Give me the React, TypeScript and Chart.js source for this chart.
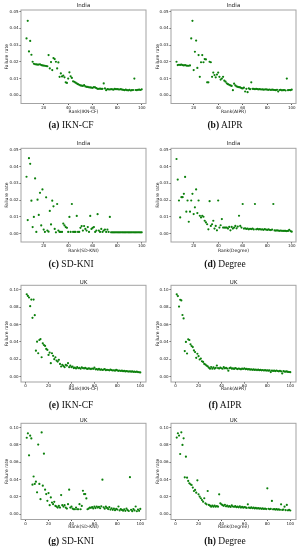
import React, { useEffect, useRef } from "react";
import { Chart, registerables } from "chart.js";

Chart.register(...registerables);

// ---------- data ----------
const INDIA_FIRST_RANK = 6;
const UK_FIRST_RANK = 1;

const indiaIknCf = [
  0.034, 0.0445, 0.0262, 0.0325, 0.0242, 0.02, 0.0188, 0.0185, 0.0184, 0.0183,
  0.0183, 0.0185, 0.018, 0.0178, 0.0177, 0.0176, 0.0174, 0.0173, 0.024, 0.016,
  0.0198, 0.015, 0.0222, 0.0216, 0.02, 0.016, 0.0196, 0.011, 0.013, 0.0112,
  0.0117, 0.0107, 0.0077, 0.0073, 0.0099, 0.0137, 0.0113, 0.0103, 0.0083, 0.008,
  0.0075, 0.007, 0.0066, 0.0062, 0.0058, 0.0057, 0.0055, 0.006, 0.0052, 0.005,
  0.0049, 0.0047, 0.0046, 0.0045, 0.0044, 0.0048, 0.0046, 0.0042, 0.0038, 0.0038,
  0.0039, 0.0037, 0.0038, 0.007, 0.004, 0.003, 0.0036, 0.0035, 0.0034, 0.0036,
  0.0035, 0.0033, 0.0037, 0.0036, 0.0036, 0.0035, 0.0034, 0.0036, 0.0033, 0.0032,
  0.003, 0.0033, 0.003, 0.0029, 0.0032, 0.0028, 0.003, 0.0031, 0.0099, 0.0031,
  0.003, 0.0032, 0.0033, 0.0031, 0.0035,
];

const indiaAipr = [
  0.02, 0.018, 0.0182, 0.0181, 0.0183, 0.018, 0.0178, 0.018, 0.0177, 0.0176,
  0.0176, 0.0178, 0.034, 0.0445, 0.015, 0.026, 0.0327, 0.0163, 0.024, 0.011,
  0.0197, 0.024, 0.0197, 0.0216, 0.0214, 0.0077, 0.0077, 0.02, 0.0197, 0.011,
  0.0135, 0.012, 0.0107, 0.0123, 0.0135, 0.011, 0.0093, 0.0099, 0.011, 0.0087,
  0.0081, 0.0071, 0.0066, 0.0062, 0.0058, 0.0055, 0.003, 0.0069, 0.0058, 0.0052,
  0.005, 0.0048, 0.0046, 0.0042, 0.004, 0.0045, 0.0022, 0.0038, 0.0018, 0.004,
  0.0036, 0.0077, 0.0038, 0.0037, 0.0036, 0.0037, 0.0036, 0.0035, 0.0036, 0.0034,
  0.0035, 0.0033, 0.0034, 0.0035, 0.0033, 0.0032, 0.0034, 0.0031, 0.0033, 0.0032,
  0.0031, 0.003, 0.0032, 0.0022, 0.0031, 0.0032, 0.0029, 0.003, 0.0031, 0.0028,
  0.0099, 0.003, 0.0031, 0.003, 0.0033,
];

const indiaSdKni = [
  0.034, 0.0081, 0.0451, 0.0417, 0.0197, 0.0039, 0.01, 0.033, 0.001, 0.0203,
  0.0112, 0.0244, 0.0049, 0.0264, 0.0024, 0.001, 0.0217, 0.0018, 0.0012, 0.0136,
  0.0055, 0.0197, 0.0163, 0.0028, 0.0008, 0.0177, 0.0018, 0.001, 0.001, 0.001,
  0.006, 0.0049, 0.0039, 0.0035, 0.001, 0.01, 0.001, 0.0177, 0.001, 0.001,
  0.001, 0.0106, 0.001, 0.001, 0.0035, 0.0045, 0.0018, 0.0045, 0.0028, 0.0018,
  0.0039, 0.001, 0.0106, 0.0028, 0.0035, 0.0039, 0.001, 0.0018, 0.0116, 0.0018,
  0.001, 0.0028, 0.001, 0.0018, 0.0024, 0.001, 0.0024, 0.001, 0.01,
  0.0008, 0.0008, 0.0008, 0.0008, 0.0008, 0.0008, 0.0008, 0.0008, 0.0008, 0.0008,
  0.0008, 0.0008, 0.0008, 0.0008, 0.0008, 0.0008, 0.0008, 0.0008, 0.0008, 0.0008,
  0.0008, 0.0008, 0.0008, 0.0008, 0.0008, 0.0008,
];

const indiaDegree = [
  0.0446, 0.0323, 0.0198, 0.0097, 0.0218, 0.0218, 0.0238, 0.0339, 0.0131, 0.0198,
  0.0071, 0.0131, 0.0198, 0.0238, 0.0117, 0.0157, 0.0264, 0.0123, 0.0198, 0.0107,
  0.0097, 0.0107, 0.0101, 0.0077, 0.0067, 0.0056, 0.0026, 0.0194, 0.0046, 0.0056,
  0.0077, 0.003, 0.0046, 0.002, 0.0198, 0.0036, 0.005, 0.0087, 0.0036, 0.0036,
  0.0036, 0.0036, 0.003, 0.004, 0.002, 0.004, 0.003, 0.0036, 0.0046, 0.0032,
  0.0042, 0.0107, 0.0046, 0.0036, 0.0177, 0.003,
  0.0032, 0.0028, 0.003, 0.0026, 0.0029, 0.0027, 0.003, 0.0025, 0.0177, 0.0026,
  0.0028, 0.0025, 0.0027, 0.0024, 0.0026, 0.0023, 0.0027, 0.0024, 0.0022, 0.0025,
  0.0023, 0.0021, 0.0024, 0.0177, 0.0019, 0.0018, 0.0019, 0.0018, 0.0017, 0.0018,
  0.0017, 0.0016, 0.0017, 0.0016, 0.0015, 0.0016, 0.0023, 0.0015, 0.0012,
];

const ukIknCf = [
  0.0947, 0.0928, 0.091, 0.081, 0.0886, 0.0677, 0.0886, 0.0707, 0.03, 0.0403,
  0.027, 0.0422, 0.0433, 0.0224, 0.0384, 0.0365, 0.0354, 0.032, 0.0308, 0.0251,
  0.0278, 0.0156, 0.027, 0.024, 0.0202, 0.0224, 0.0186, 0.0175, 0.0194, 0.0148,
  0.0118, 0.0137, 0.0125, 0.011, 0.0137, 0.0129, 0.0156, 0.011, 0.0129, 0.011,
  0.0118, 0.01, 0.0105, 0.0095, 0.011, 0.0098, 0.0103, 0.0092, 0.0108, 0.01,
  0.0096, 0.0102, 0.0094, 0.009, 0.0097, 0.0093, 0.0088, 0.0095, 0.0091, 0.0105,
  0.0085, 0.0088, 0.0082, 0.009, 0.008, 0.0086, 0.0078, 0.0083, 0.0088, 0.0076,
  0.008, 0.0078, 0.0074, 0.0082, 0.0077, 0.0072, 0.0075, 0.007, 0.0079, 0.0073,
  0.0068, 0.0072, 0.0066, 0.007, 0.0064, 0.0068, 0.0061, 0.0065, 0.0063, 0.006,
  0.0062, 0.0058, 0.0061, 0.0057, 0.0059, 0.0055, 0.0058, 0.0054, 0.0052, 0.005,
];

const ukAipr = [
  0.0946, 0.0926, 0.0806, 0.0884, 0.0876, 0.0709, 0.067, 0.0295, 0.04, 0.0267,
  0.043, 0.0422, 0.0372, 0.0353, 0.0341, 0.0302, 0.0283, 0.0217, 0.0264, 0.0236,
  0.0198, 0.0209, 0.0178, 0.0171, 0.0147, 0.014, 0.0128, 0.012, 0.0105, 0.0093,
  0.0112, 0.0093, 0.0109, 0.0093, 0.0101, 0.0128, 0.01, 0.0095, 0.0105, 0.0098,
  0.0092, 0.011, 0.0097, 0.0102, 0.0094, 0.007, 0.0099, 0.0105, 0.0093, 0.0096,
  0.009, 0.01, 0.0094, 0.0088, 0.0095, 0.0091, 0.0086, 0.0093, 0.0089, 0.0098,
  0.0087, 0.009, 0.0084, 0.0088, 0.0082, 0.0086, 0.008, 0.0084, 0.0079, 0.0083,
  0.0077, 0.0081, 0.0076, 0.0079, 0.0074, 0.0078, 0.0072, 0.0076, 0.0071, 0.0074,
  0.007, 0.0073, 0.0054, 0.0071, 0.0067, 0.007, 0.0065, 0.0072, 0.0066, 0.0063,
  0.0068, 0.0062, 0.0039, 0.0064, 0.006, 0.0058, 0.0061, 0.0056, 0.0055, 0.0053,
];

const ukSdKni = [
  0.0883, 0.0934, 0.0681, 0.0907, 0.0875, 0.0342, 0.0436, 0.035, 0.0377, 0.0253,
  0.0805, 0.035, 0.0175, 0.0945, 0.033, 0.07, 0.0284, 0.0233, 0.0156, 0.0245,
  0.0105, 0.0195, 0.0136, 0.0117, 0.0144, 0.0097, 0.0089, 0.0078, 0.0097, 0.0078,
  0.0222, 0.0105, 0.0089, 0.0105, 0.0078, 0.0066, 0.0117, 0.0284, 0.0078, 0.0089,
  0.0066, 0.0058, 0.0058, 0.0078, 0.0058, 0.0058, 0.0117, 0.0058, 0.0097, 0.0272,
  0.0233, 0.0233, 0.0183, 0.0058, 0.0066, 0.0078,
  0.0075, 0.0082, 0.0068, 0.0088, 0.0072, 0.009, 0.0078, 0.0085, 0.007, 0.0092,
  0.04, 0.008, 0.0065, 0.0088, 0.0074, 0.006, 0.0082, 0.0055, 0.007, 0.0052,
  0.0066, 0.0048, 0.0062, 0.0055, 0.009, 0.0045, 0.006, 0.005, 0.0042, 0.0058,
  0.004, 0.0065, 0.0048, 0.0038, 0.0428, 0.0052, 0.0036, 0.006, 0.0045, 0.009,
  0.0035, 0.0055, 0.004, 0.0062,
];

const ukDegree = [
  0.0885, 0.0935, 0.0908, 0.0696, 0.0946, 0.08, 0.0877, 0.0427, 0.0665, 0.0423,
  0.0385, 0.0358, 0.0346, 0.0338, 0.0308, 0.0269, 0.0281, 0.025, 0.0392, 0.0231,
  0.0204, 0.0185, 0.0165, 0.0146, 0.0185, 0.0127, 0.0115, 0.0269, 0.0108, 0.01,
  0.0088, 0.01, 0.0088, 0.01, 0.0088, 0.0096, 0.0088, 0.0231, 0.0127, 0.0115,
  0.0105, 0.0098, 0.011, 0.0092, 0.01, 0.0088, 0.0095, 0.0085, 0.0102, 0.009,
  0.0086, 0.0094, 0.0082, 0.0088, 0.008, 0.0091, 0.0078, 0.0085, 0.0076, 0.0083,
  0.0079, 0.0074, 0.0115, 0.0076, 0.0072, 0.008, 0.007, 0.0077, 0.0068, 0.0074,
  0.0066, 0.0072, 0.0065, 0.007, 0.0063, 0.0068, 0.0061, 0.0066, 0.006, 0.03,
  0.0064, 0.0058, 0.0062, 0.0154, 0.0057, 0.006, 0.0055, 0.0059, 0.0053, 0.0057,
  0.0052, 0.0115, 0.005, 0.0055, 0.0088, 0.0048, 0.0108, 0.0046, 0.005, 0.0044,
];

const indiaYTicks = [0, 0.01, 0.02, 0.03, 0.04, 0.05];
const ukYTicks = [0, 0.02, 0.04, 0.06, 0.08, 0.1];
const indiaXTicks = [20, 40, 60, 80, 100];
const ukXTicks = [0, 20, 40, 60, 80, 100];

const methods = ["IKN-CF", "AIPR", "SD-KNI", "Degree"];
const letters = ["a", "b", "c", "d", "e", "f", "g", "h"];
const yAxisLabel = "Failure rate";

// ---------- layout (px) ----------
const ROW_TOP = [0, 135, 270, 408];
const ROW_H = [120, 120, 122, 122];
const PLOT_TOP = [10, 148.3, 285.3, 423.3];
const PLOT_BOTTOM = [103.5, 242, 382, 519.5];
const TITLE_Y = [5.7, 143.3, 282.7, 420.7];
const XLABEL_Y = [112, 250.7, 389, 526.5];
const CAPTION_Y = [125, 264, 405, 541];
const COL_X = [0, 151];
const COL_W = 151;
const PLOT_LEFT = [21, 20];
const PLOT_RIGHT = [146, 145];
const YLABEL_X = [7, 6.5];
const CAPTION_X = [71, 74];

const FONT = "'DejaVu Sans', sans-serif";
const TICK_FS = 4;
const LABEL_FS = 4.5;
const TITLE_FS = 5.5;
const POINT_COLOR = "#0c800c";

const framePlugin = {
  id: "frame",
  afterDatasetsDraw(chart: any) {
    const { ctx, chartArea } = chart;
    const { left, top, right, bottom } = chartArea;
    ctx.save();
    ctx.strokeStyle = "#a3a3a3";
    ctx.lineWidth = 1;
    ctx.strokeRect(left, top, right - left, bottom - top);
    ctx.restore();
  },
};

type PanelProps = {
  values: number[];
  firstRank: number;
  title: string;
  method: string;
  letter: string;
  row: number;
  col: number;
  yTicks: number[];
  xTicks: number[];
  xMin: number;
  xMax: number;
  yMin: number;
  yMax: number;
};

function Panel(p: PanelProps) {
  const ref = useRef<HTMLCanvasElement | null>(null);
  const H = ROW_H[p.row];
  const top = ROW_TOP[p.row];

  useEffect(() => {
    if (!ref.current) return;
    const points = p.values.map((v, i) => ({ x: p.firstRank + i, y: v }));
    const relPlotTop = PLOT_TOP[p.row] - top;
    const relPlotBottom = PLOT_BOTTOM[p.row] - top;
    const relTitle = TITLE_Y[p.row] - top;
    const relXLabel = XLABEL_Y[p.row] - top;
    const tHalf = TITLE_FS * 0.6;
    const lHalf = LABEL_FS * 0.6;
    const chart = new Chart(ref.current, {
      type: "scatter",
      data: {
        datasets: [
          {
            data: points,
            backgroundColor: POINT_COLOR,
            borderColor: POINT_COLOR,
            borderWidth: 0,
            pointRadius: 1.1,
            pointHoverRadius: 1.1,
          },
        ],
      },
      plugins: [framePlugin],
      options: {
        animation: false,
        responsive: false,
        devicePixelRatio: 1,
        layout: {
          padding: { left: 0, top: 0, bottom: 0, right: COL_W - PLOT_RIGHT[p.col] },
        },
        plugins: {
          legend: { display: false },
          tooltip: { enabled: false },
          title: {
            display: true,
            text: p.title,
            fullSize: false,
            color: "#222",
            font: { family: FONT, size: TITLE_FS, weight: "normal" },
            padding: { top: relTitle - tHalf, bottom: relPlotTop - relTitle - tHalf },
          },
        },
        scales: {
          x: {
            type: "linear",
            min: p.xMin,
            max: p.xMax,
            afterBuildTicks: (s: any) => {
              s.ticks = p.xTicks.map((v) => ({ value: v }));
            },
            afterFit: (s: any) => {
              s.height = H - relPlotBottom;
            },
            ticks: {
              autoSkip: false,
              maxRotation: 0,
              padding: 0.5,
              color: "#222",
              font: { family: FONT, size: TICK_FS },
              callback: (v: any) => String(v),
            },
            grid: { drawOnChartArea: false, tickLength: 1.5, color: "#555" },
            border: { display: false },
            title: {
              display: true,
              text: "Rank(" + p.method + ")",
              color: "#222",
              font: { family: FONT, size: LABEL_FS },
              padding: { top: 0, bottom: H - relXLabel - lHalf },
            },
          },
          y: {
            type: "linear",
            min: p.yMin,
            max: p.yMax,
            afterBuildTicks: (s: any) => {
              s.ticks = p.yTicks.map((v) => ({ value: v }));
            },
            afterFit: (s: any) => {
              s.width = PLOT_LEFT[p.col];
            },
            ticks: {
              autoSkip: false,
              padding: 1,
              color: "#222",
              font: { family: FONT, size: TICK_FS },
              callback: (v: any) => Number(v).toFixed(2),
            },
            grid: { drawOnChartArea: false, tickLength: 1.5, color: "#555" },
            border: { display: false },
            title: {
              display: true,
              text: yAxisLabel,
              color: "#222",
              font: { family: FONT, size: LABEL_FS },
              padding: { top: YLABEL_X[p.col] - lHalf, bottom: 0 },
            },
          },
        },
      } as any,
    });
    return () => chart.destroy();
  }, []);

  const capTop = CAPTION_Y[p.row] - 6;
  return (
    <>
      <canvas
        ref={ref}
        width={COL_W}
        height={H}
        style={{
          position: "absolute",
          left: COL_X[p.col],
          top: top,
          width: COL_W,
          height: H,
        }}
      />
      <div
        style={{
          position: "absolute",
          left: COL_X[p.col] + CAPTION_X[p.col] - 75,
          top: capTop,
          width: 150,
          height: 12,
          lineHeight: "12px",
          textAlign: "center",
          fontFamily: "'Liberation Serif', 'Times New Roman', serif",
          fontSize: 9.5,
          color: "#111",
          whiteSpace: "nowrap",
        }}
      >
        <b>({p.letter})</b> {p.method}
      </div>
    </>
  );
}

export default function App() {
  const india = [indiaIknCf, indiaAipr, indiaSdKni, indiaDegree];
  const uk = [ukIknCf, ukAipr, ukSdKni, ukDegree];
  const panels: PanelProps[] = [];
  for (let k = 0; k < 4; k++) {
    panels.push({
      values: india[k],
      firstRank: INDIA_FIRST_RANK,
      title: "India",
      method: methods[k],
      letter: letters[k],
      row: Math.floor(k / 2),
      col: k % 2,
      yTicks: indiaYTicks,
      xTicks: indiaXTicks,
      xMin: 1.5,
      xMax: 103.5,
      yMin: -0.005,
      yMax: 0.051,
    });
  }
  for (let k = 0; k < 4; k++) {
    panels.push({
      values: uk[k],
      firstRank: UK_FIRST_RANK,
      title: "UK",
      method: methods[k],
      letter: letters[k + 4],
      row: 2 + Math.floor(k / 2),
      col: k % 2,
      yTicks: ukYTicks,
      xTicks: ukXTicks,
      xMin: -4,
      xMax: 105,
      yMin: -0.006,
      yMax: 0.105,
    });
  }
  return (
    <div
      style={{
        position: "absolute",
        left: 0,
        top: 0,
        width: 303,
        height: 550,
        background: "#fff",
        overflow: "hidden",
      }}
    >
      {panels.map((p, i) => (
        <Panel key={i} {...p} />
      ))}
    </div>
  );
}
